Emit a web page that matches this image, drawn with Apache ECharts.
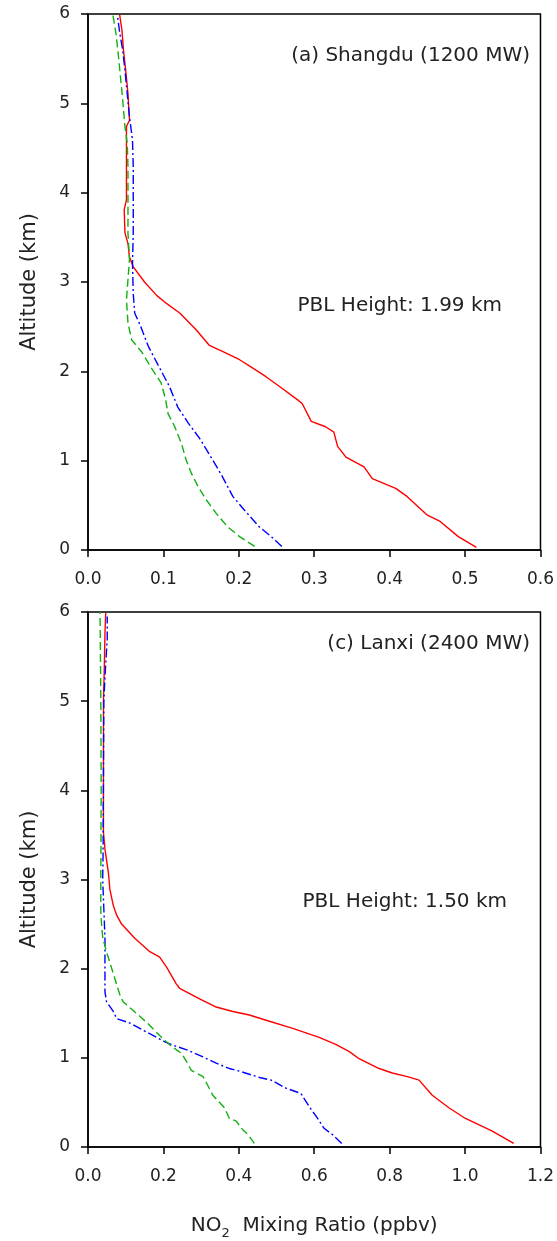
<!DOCTYPE html>
<html>
<head>
<meta charset="utf-8">
<script src="https://cdn.jsdelivr.net/npm/echarts@6/dist/echarts.min.js"></script>
<style>
html, body { margin: 0; padding: 0; background: #fff; }
#chart { width: 557px; height: 1241px; }
</style>
</head>
<body>
<div id="chart"></div>
<script>
// panel (a) Shangdu
const shangduRedAlt = [0.03,0.15,0.32,0.39,0.60,0.69,0.80,0.93,1.04,1.16,1.32,1.38,1.44,1.64,1.68,1.83,1.94,2.05,2.13,2.22,2.29,2.46,2.65,2.76,2.85,3.00,3.17,3.28,3.43,3.55,3.81,3.92,4.74,4.81,5.11,5.37,5.60,5.82,5.99];
const shangduRed = [0.515,0.491,0.467,0.450,0.423,0.408,0.377,0.366,0.342,0.331,0.326,0.315,0.296,0.284,0.278,0.254,0.236,0.216,0.201,0.179,0.161,0.144,0.122,0.104,0.091,0.075,0.060,0.055,0.053,0.049,0.048,0.051,0.051,0.055,0.053,0.050,0.047,0.045,0.042];
const shangduBlueAlt = [0.04,0.15,0.26,0.45,0.60,0.84,1.04,1.25,1.42,1.60,1.83,2.07,2.28,2.52,2.65,2.87,3.21,3.55,4.29,4.59,4.85,5.11,5.37,5.60,5.79,5.99];
const shangduBlue = [0.257,0.243,0.227,0.207,0.192,0.177,0.163,0.148,0.133,0.119,0.108,0.093,0.080,0.069,0.062,0.060,0.059,0.060,0.060,0.059,0.055,0.052,0.049,0.046,0.042,0.039];
const shangduGreenAlt = [0.04,0.15,0.26,0.41,0.56,0.71,0.86,1.01,1.19,1.38,1.53,1.68,1.87,2.01,2.22,2.35,2.54,2.80,3.25,3.55,4.29,4.55,4.74,5.04,5.30,5.56,5.79,5.99];
const shangduGreen = [0.221,0.201,0.185,0.170,0.157,0.146,0.137,0.130,0.124,0.115,0.106,0.103,0.097,0.086,0.071,0.058,0.053,0.051,0.055,0.053,0.053,0.052,0.049,0.046,0.043,0.040,0.037,0.033];

// panel (c) Lanxi
const lanxiRedAlt = [0.04,0.18,0.32,0.44,0.58,0.75,0.79,0.83,0.88,0.99,1.07,1.15,1.23,1.28,1.33,1.41,1.48,1.52,1.57,1.66,1.78,1.83,2.02,2.13,2.19,2.34,2.50,2.60,2.71,2.89,3.08,3.34,3.53,5.02,5.32,5.76,5.99];
const lanxiRed = [1.129,1.071,1.001,0.957,0.913,0.878,0.847,0.807,0.772,0.719,0.693,0.657,0.613,0.578,0.543,0.481,0.428,0.384,0.340,0.296,0.243,0.234,0.208,0.190,0.164,0.124,0.089,0.076,0.067,0.058,0.054,0.045,0.041,0.041,0.043,0.045,0.047];
const lanxiBlueAlt = [0.04,0.14,0.21,0.32,0.45,0.60,0.66,0.75,0.78,0.85,0.88,0.94,1.01,1.09,1.14,1.18,1.29,1.39,1.44,1.52,1.63,1.74,2.34,3.00,3.30,5.00,5.27,5.70,5.95];
const lanxiBlue = [0.673,0.648,0.626,0.609,0.587,0.565,0.525,0.486,0.455,0.402,0.375,0.340,0.305,0.262,0.226,0.204,0.155,0.111,0.076,0.067,0.049,0.045,0.045,0.039,0.040,0.042,0.045,0.051,0.051];
const lanxiGreenAlt = [0.04,0.14,0.19,0.29,0.32,0.44,0.58,0.72,0.79,0.86,0.96,1.05,1.13,1.25,1.40,1.53,1.63,1.70,1.89,2.07,2.19,2.35,2.60,3.00,4.00,5.00,6.00];
const lanxiGreen = [0.441,0.424,0.411,0.393,0.375,0.362,0.331,0.314,0.305,0.274,0.261,0.248,0.221,0.190,0.155,0.120,0.093,0.085,0.071,0.058,0.049,0.039,0.034,0.034,0.035,0.034,0.032];

const altTicks = [0, 1, 2, 3, 4, 5, 6];

function pairs(xs, ys) {
    return xs.map((v, i) => [v, ys[i]]);
}

var myChart = echarts.init(document.getElementById('chart'));

const fam = 'DejaVu Sans, Liberation Sans, sans-serif';
const labelFont = { color: '#222', fontSize: 17, fontFamily: fam };

function xAx(grid, max, interval, withName) {
    return {
        type: 'value',
        gridIndex: grid,
        min: 0,
        max: max,
        interval: interval,
        axisLine: { onZero: false, lineStyle: { color: '#000', width: 1.5 } },
        axisTick: { inside: false, length: 7, lineStyle: { color: '#000', width: 1.5 } },
        axisLabel: Object.assign({ margin: 21, formatter: v => v.toFixed(1) }, labelFont),
        splitLine: { show: false },
        name: withName ? '{a|NO}{s|2}{a|  Mixing Ratio (ppbv)}' : '',
        nameLocation: 'middle',
        nameGap: 64,
        nameTextStyle: {
            rich: {
                a: { fontSize: 20, color: '#222', fontFamily: fam },
                s: { fontSize: 13, color: '#222', padding: [16, 0, 0, 0], fontFamily: fam }
            }
        }
    };
}

function yAx(grid) {
    return {
        type: 'value',
        gridIndex: grid,
        min: 0,
        max: 6,
        interval: 1,
        axisLine: { onZero: false, lineStyle: { color: '#000', width: 1.5 } },
        axisTick: { inside: false, length: 7, lineStyle: { color: '#000', width: 1.5 } },
        axisLabel: Object.assign({ margin: 18, formatter: v => altTicks.includes(v) ? String(v) : '' }, labelFont),
        splitLine: { show: false },
        name: 'Altitude (km)',
        nameLocation: 'middle',
        nameGap: 48,
        nameRotate: 90,
        nameTextStyle: { fontSize: 21, color: '#222', fontFamily: fam }
    };
}

function line(name, grid, data, color, dash) {
    return {
        name: name,
        type: 'line',
        xAxisIndex: grid,
        yAxisIndex: grid,
        data: data,
        showSymbol: false,
        symbol: 'none',
        smooth: false,
        lineStyle: { color: color, width: 1.4, type: dash },
        z: 3
    };
}

myChart.setOption({
    animation: false,
    backgroundColor: '#fff',
    grid: [
        { left: 88, top: 14, width: 454, height: 536, show: true, borderColor: '#000', borderWidth: 1.5, backgroundColor: 'transparent' },
        { left: 88, top: 612, width: 454, height: 537, show: true, borderColor: '#000', borderWidth: 1.5, backgroundColor: 'transparent' }
    ],
    xAxis: [xAx(0, 0.6, 0.1, false), xAx(1, 1.2, 0.2, true)],
    yAxis: [yAx(0), yAx(1)],
    series: [
        line('Shangdu red', 0, pairs(shangduRed, shangduRedAlt), '#ff0000', 'solid'),
        line('Shangdu blue', 0, pairs(shangduBlue, shangduBlueAlt), '#0000ff', [9, 3, 2, 3]),
        line('Shangdu green', 0, pairs(shangduGreen, shangduGreenAlt), '#10b010', [8, 4]),
        line('Lanxi red', 1, pairs(lanxiRed, lanxiRedAlt), '#ff0000', 'solid'),
        line('Lanxi blue', 1, pairs(lanxiBlue, lanxiBlueAlt), '#0000ff', [9, 3, 2, 3]),
        line('Lanxi green', 1, pairs(lanxiGreen, lanxiGreenAlt), '#10b010', [8, 4])
    ],
    graphic: [
        { type: 'text', right: 27, top: 46, style: { text: '(a) Shangdu (1200 MW)', fontSize: 20, fill: '#222', fontFamily: fam } },
        { type: 'text', right: 55, top: 296, style: { text: 'PBL Height: 1.99 km', fontSize: 20, fill: '#222', fontFamily: fam } },
        { type: 'text', right: 27, top: 634, style: { text: '(c) Lanxi (2400 MW)', fontSize: 20, fill: '#222', fontFamily: fam } },
        { type: 'text', right: 50, top: 892, style: { text: 'PBL Height: 1.50 km', fontSize: 20, fill: '#222', fontFamily: fam } }
    ]
});
</script>
</body>
</html>
